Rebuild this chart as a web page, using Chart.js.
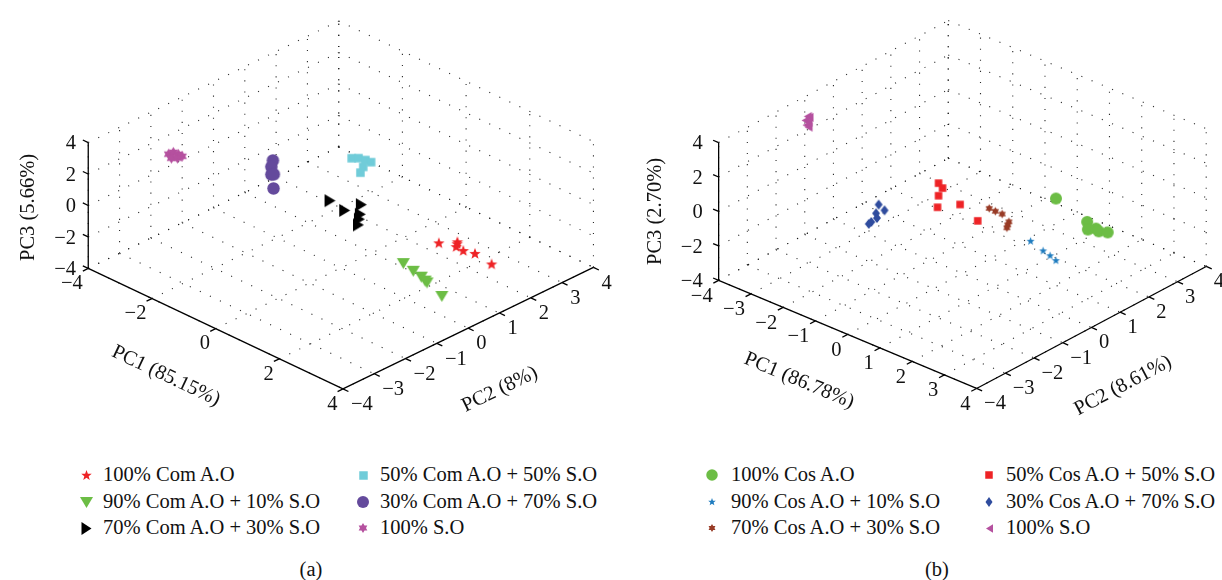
<!DOCTYPE html>
<html>
<head>
<meta charset="utf-8">
<script src="https://cdn.jsdelivr.net/npm/chart.js@4.4.1/dist/chart.umd.min.js"></script>
<style>
html,body{margin:0;padding:0;background:#fff;}
#wrap{position:relative;width:1222px;height:580px;overflow:hidden;font-family:"Liberation Serif","Times New Roman",serif;color:#111;}
canvas.plot{position:absolute;top:0;}
.lgt{position:absolute;font-size:20.5px;line-height:27px;white-space:nowrap;}
.lgm{position:absolute;}
.cap{position:absolute;font-size:20.5px;line-height:27px;white-space:nowrap;transform:translateX(-50%);}
</style>
</head>
<body>
<div id="wrap">
  <canvas id="cA" class="plot" width="650" height="440" style="left:0px"></canvas>
  <canvas id="cB" class="plot" width="611" height="440" style="left:611px"></canvas>
  <div class="cap" style="left:311px;top:556px">(a)</div>
  <div class="cap" style="left:937px;top:556px">(b)</div>
</div>
<script>
// ===================== DATA =====================
// Panel (a): commercial A.O / S.O blends, scores [PC1, PC2, PC3]
const labelsA = ['100% Com A.O', '90% Com A.O + 10% S.O', '70% Com A.O + 30% S.O',
                 '50% Com A.O + 50% S.O', '30% Com A.O + 70% S.O', '100% S.O'];
const aCom100 = [[2.30,0.79,-1.0],[2.56,1.12,-1.0],[2.62,1.05,-1.0],[2.70,0.94,-1.0],[2.94,0.92,-1.0],[3.22,1.01,-1.0],[3.83,0.92,-1.0]];
const aCom90  = [[2.14,-0.18,-1.5],[2.55,-0.28,-1.5],[2.87,-0.35,-1.5],[3.06,-0.42,-1.5],[3.15,-0.45,-1.5],[3.83,-0.67,-1.5]];
const aCom70  = [[0.8,-1.16,2.16],[0.8,-0.69,1.09],[0.8,-0.16,0.94],[0.8,-0.19,0.36],[0.8,-0.22,0.08],[0.8,-0.25,-0.26]];
const aCom50  = [[-0.3,0.65,2.06],[-0.3,0.87,1.85],[-0.3,1.09,1.52],[-0.3,1.27,1.21],[-0.3,1.02,1.15],[-0.3,0.93,0.87]];
const aCom30  = [[-1.2,-0.95,2.60],[-1.2,-1.00,2.24],[-1.2,-1.00,1.75],[-1.2,-0.92,1.69],[-1.2,-0.93,0.80]];
const aSO     = [[-3.6,-1.84,1.56],[-3.6,-1.69,1.53],[-3.6,-1.53,1.25],[-3.6,-1.75,1.22],[-3.6,-1.56,1.04],[-3.6,-1.41,1.01]];
const titlesA = ['PC1 (85.15%)', 'PC2 (8%)', 'PC3 (5.66%)'];
const ticksA_pc1 = [-4,-2,0,2,4];
const ticksA_pc2 = [-4,-3,-2,-1,0,1,2,3,4];
const ticksA_pc3 = [-4,-2,0,2,4];

// Panel (b): cosmetic A.O / S.O blends, scores [PC1, PC2, PC3]
const labelsB = ['100% Cos A.O', '90% Cos A.O + 10% S.O', '70% Cos A.O + 30% S.O',
                 '50% Cos A.O + 50% S.O', '30% Cos A.O + 70% S.O', '100% S.O'];
const bCos100 = [[2.27,0.71,1.5],[2.73,1.28,0],[2.99,1.01,0],[3.10,1.17,0],[3.24,1.11,0],[3.43,1.21,0]];
const bCos90  = [[1.82,0.33,-1],[2.35,0.17,-1],[2.63,0.10,-1],[2.89,0.01,-1]];
const bCos70  = [[0.59,0.27,0],[0.79,0.26,0],[1.00,0.26,0],[1.37,0.08,0],[1.45,-0.05,0],[1.53,-0.17,0]];
const bCos50  = [[-0.83,0.10,0.5],[-0.60,-0.02,0.5],[-0.42,-0.36,0.5],[-0.06,-0.80,0.5],[0.24,-0.35,0.5],[1.08,-0.68,0.5]];
const bCos30  = [[-1.45,-1.29,0],[-1.16,-1.41,0],[-1.21,-1.65,0],[-1.04,-1.81,0],[-1.01,-2.04,0],[-0.99,-2.15,0]];
const bSO     = [[-3.70,-1.23,3.3],[-3.64,-1.24,3.3],[-3.61,-1.41,3.3],[-3.50,-1.43,3.3],[-3.44,-1.57,3.3],[-3.34,-1.61,3.3]];
const titlesB = ['PC1 (86.78%)', 'PC2 (8.61%)', 'PC3 (2.70%)'];
const ticksB_pc1 = [-4,-3,-2,-1,0,1,2,3,4];
const ticksB_pc2 = [-4,-3,-2,-1,0,1,2,3,4];
const ticksB_pc3 = [-4,-2,0,2,4];

const axisLimits = [-4, 4];

// ===================== VIEW / STYLE =====================
// 3-D view: screen origin of (0,0,0) and screen vectors per unit of PC1, PC2, PC3
const viewA = { o:[341.2,204.5], e1:[32.54,15.56], e2:[32.0,-15.69], e3:[0,-16.25] };
const viewB = { o:[352.5,204.0], e1:[33.0,13.96], e2:[29.375,-15.75], e3:[0,-17.79] };

const FONT = '20.5px "Liberation Serif", "Times New Roman", serif';
const CAP_HALF = 6.8;

function proj(v, p) {
  return {
    x: v.o[0] + p[0]*v.e1[0] + p[1]*v.e2[0] + p[2]*v.e3[0],
    y: v.o[1] + p[0]*v.e1[1] + p[1]*v.e2[1] + p[2]*v.e3[1]
  };
}

function makeMarker(shape, w, h, color) {
  h = h || w;
  const s = Math.ceil(Math.max(w, h)) + 2;
  const c = document.createElement('canvas');
  c.width = s; c.height = s;
  const g = c.getContext('2d');
  g.fillStyle = color;
  g.translate(s/2, s/2);
  g.beginPath();
  const poly = pts => { g.moveTo(pts[0][0], pts[0][1]); for (let i=1;i<pts.length;i++) g.lineTo(pts[i][0], pts[i][1]); g.closePath(); };
  const starPts = (n, ro, ri) => { const a=[]; for (let k=0;k<2*n;k++){ const r = k%2===0?ro:ri; const t = -Math.PI/2 + k*Math.PI/n; a.push([r*Math.cos(t), r*Math.sin(t)]); } return a; };
  switch (shape) {
    case 'circle': g.arc(0,0,w/2,0,2*Math.PI); break;
    case 'square': g.rect(-w/2,-h/2,w,h); break;
    case 'diamond': poly([[0,-h/2],[w/2,0],[0,h/2],[-w/2,0]]); break;
    case 'star': poly(starPts(5, w/2, w/2*0.42)); break;
    case 'hexagram': poly(starPts(6, w/2, w/2*0.6)); break;
    case 'triDown': poly([[-w/2,-h/2],[w/2,-h/2],[0,h/2]]); break;
    case 'triRight': poly([[-w/2,-h/2],[w/2,0],[-w/2,h/2]]); break;
    case 'triLeft': poly([[w/2,-h/2],[-w/2,0],[w/2,h/2]]); break;
  }
  g.fill();
  return c;
}

// 3-D box / grid / axes plugin (drawn through the chart's own scales)
const box3d = {
  id: 'box3d',
  beforeDatasetsDraw(chart) {
    const o = chart.options.plugins.box3d;
    if (!o) return;
    const ctx = chart.ctx, xs = chart.scales.x, ys = chart.scales.y;
    const P = p => { const q = proj(o.view, p); return [xs.getPixelForValue(q.x), ys.getPixelForValue(q.y)]; };
    const lo = axisLimits[0], hi = axisLimits[1];
    const line = (a, b) => { const A = P(a), B = P(b); ctx.beginPath(); ctx.moveTo(A[0],A[1]); ctx.lineTo(B[0],B[1]); ctx.stroke(); };
    ctx.save();
    // dotted grid on the floor and the two back walls
    ctx.strokeStyle = 'rgba(20,20,20,0.9)';
    ctx.lineWidth = 1.1;
    ctx.setLineDash([1.1, 10]);
    o.ticks[0].forEach(t => { line([t,lo,lo],[t,hi,lo]); line([t,hi,lo],[t,hi,hi]); });
    o.ticks[1].forEach(s => { line([lo,s,lo],[hi,s,lo]); line([lo,s,lo],[lo,s,hi]); });
    o.ticks[2].forEach(z => { line([lo,lo,z],[lo,hi,z]); line([lo,hi,z],[hi,hi,z]); });
    ctx.setLineDash([]);
    // solid axes
    ctx.strokeStyle = '#000';
    ctx.lineWidth = 1.3;
    line([lo,lo,lo],[lo,lo,hi]);
    line([lo,lo,lo],[hi,lo,lo]);
    line([hi,lo,lo],[hi,hi,lo]);
    // tick marks (pointing out of the box)
    const O0 = P([0,0,0]), E1 = P([1,0,0]), E2 = P([0,1,0]);
    const unit = (a) => { const l = Math.hypot(a[0],a[1]); return [a[0]/l, a[1]/l]; };
    const u1 = unit([E1[0]-O0[0], E1[1]-O0[1]]);
    const u2 = unit([E2[0]-O0[0], E2[1]-O0[1]]);
    const TL = 6;
    const tick = (pt, d) => { ctx.beginPath(); ctx.moveTo(pt[0],pt[1]); ctx.lineTo(pt[0]+d[0]*TL, pt[1]+d[1]*TL); ctx.stroke(); };
    o.ticks[0].forEach(t => tick(P([t,lo,lo]), [-u2[0],-u2[1]]));
    o.ticks[1].forEach(s => tick(P([hi,s,lo]), [u1[0],u1[1]]));
    o.ticks[2].forEach(z => tick(P([lo,lo,z]), [-u1[0],-u1[1]]));
    // tick labels
    const fmt = v => v < 0 ? '\u2212' + Math.abs(v) : String(v);
    ctx.fillStyle = '#111';
    ctx.font = FONT;
    ctx.textBaseline = 'alphabetic';
    ctx.textAlign = 'right';
    o.ticks[0].forEach(t => { const p = P([t,lo,lo]); ctx.fillText(fmt(t), p[0]+o.lab1[0], p[1]+o.lab1[1]+CAP_HALF); });
    ctx.textAlign = 'left';
    o.ticks[1].forEach(s => { const p = P([hi,s,lo]); ctx.fillText(fmt(s), p[0]+o.lab2[0], p[1]+o.lab2[1]+CAP_HALF); });
    ctx.textAlign = 'right';
    o.ticks[2].forEach(z => { const p = P([lo,lo,z]); ctx.fillText(fmt(z), p[0]+o.lab3[0], p[1]+o.lab3[1]+CAP_HALF); });
    // axis titles
    ctx.textAlign = 'center';
    const ang1 = Math.atan2(u1[1], u1[0]), ang2 = Math.atan2(u2[1], u2[0]);
    const title = (txt, c, ang) => { ctx.save(); ctx.translate(c[0], c[1]); ctx.rotate(ang); ctx.fillText(txt, 0, CAP_HALF); ctx.restore(); };
    const m1 = P([0,lo,lo]), m2 = P([hi,0,lo]), m3 = P([lo,lo,0]);
    title(o.titles[0], [m1[0]+o.t1[0], m1[1]+o.t1[1]], ang1);
    title(o.titles[1], [m2[0]+o.t2[0], m2[1]+o.t2[1]], ang2);
    title(o.titles[2], [m3[0]+o.t3[0], m3[1]+o.t3[1]], -Math.PI/2);
    ctx.restore();
  }
};

function makeChart(canvasId, view, series, labels, styles, ticks, titles, lay) {
  const canvas = document.getElementById(canvasId);
  const W = canvas.width, H = canvas.height;
  const datasets = series.map((arr, i) => ({
    label: labels[i],
    data: arr.map(p => proj(view, p)),
    pointStyle: makeMarker(styles[i].shape, styles[i].w, styles[i].h, styles[i].color),
    pointRadius: 6,
    clip: false,
    showLine: false,
    legendMarker: makeMarker(styles[i].shape, styles[i].lw, styles[i].lh, styles[i].color)
  }));
  return new Chart(canvas.getContext('2d'), {
    type: 'scatter',
    data: { datasets },
    options: {
      responsive: false,
      maintainAspectRatio: false,
      animation: false,
      events: [],
      devicePixelRatio: 1,
      layout: { padding: 0 },
      scales: {
        x: { type: 'linear', display: false, min: 0, max: W },
        y: { type: 'linear', display: false, min: 0, max: H, reverse: true }
      },
      plugins: {
        legend: { display: false },
        tooltip: { enabled: false },
        box3d: Object.assign({ view, ticks, titles }, lay)
      }
    },
    plugins: [box3d]
  });
}

const stylesA = [
  { shape:'star',     w:12,  h:12,  lw:11,  lh:11,  color:'#ee2326' },
  { shape:'triDown',  w:13,  h:11,  lw:13,  lh:11,  color:'#6cbd45' },
  { shape:'triRight', w:11,  h:13,  lw:10,  lh:13,  color:'#000000' },
  { shape:'square',   w:8.5, h:8.5, lw:8.5, lh:8.5, color:'#70ccd9' },
  { shape:'circle',   w:12.5,h:12.5,lw:12,  lh:12,  color:'#644a9c' },
  { shape:'hexagram', w:11,  h:11,  lw:10,  lh:10,  color:'#b5519f' }
];
const stylesB = [
  { shape:'circle',   w:12,  h:12,  lw:11.5,lh:11.5,color:'#6cbd45' },
  { shape:'star',     w:8.5, h:8.5, lw:8,   lh:8,   color:'#1f7cbf' },
  { shape:'hexagram', w:8.5, h:8.5, lw:8,   lh:8,   color:'#983b26' },
  { shape:'square',   w:7.5, h:7.5, lw:7.5, lh:7.5, color:'#ee2326' },
  { shape:'diamond',  w:8,   h:10,  lw:7,   lh:10,  color:'#2f4c9e' },
  { shape:'triLeft',  w:8,   h:9,   lw:7,   lh:8.5, color:'#b5519f' }
];

const chartA = makeChart('cA', viewA, [aCom100, aCom90, aCom70, aCom50, aCom30, aSO], labelsA, stylesA,
  [ticksA_pc1, ticksA_pc2, ticksA_pc3], titlesA,
  { lab1:[-5.5,14], lab2:[8,14.5], lab3:[-12.3,0], t1:[-49,46], t2:[31,60], t3:[-61,2] });
const chartB = makeChart('cB', viewB, [bCos100, bCos90, bCos70, bCos50, bCos30, bSO], labelsB, stylesB,
  [ticksB_pc1, ticksB_pc2, ticksB_pc3], titlesB,
  { lab1:[-6,14.5], lab2:[7.5,14], lab3:[-16,0], t1:[-48,45], t2:[31,57], t3:[-64,0] });

// HTML legends built from the chart datasets (two columns of three)
function buildLegend(chart, markerX, textX, rowY) {
  const wrap = document.getElementById('wrap');
  chart.data.datasets.forEach((ds, i) => {
    const col = Math.floor(i / 3), row = i % 3;
    const m = ds.legendMarker;
    m.className = 'lgm';
    m.style.left = (markerX[col] - m.width/2) + 'px';
    m.style.top = (rowY[row] - m.height/2) + 'px';
    wrap.appendChild(m);
    const t = document.createElement('div');
    t.className = 'lgt';
    t.textContent = ds.label;
    t.style.left = textX[col] + 'px';
    t.style.top = (rowY[row] - 13.6) + 'px';
    wrap.appendChild(t);
  });
}
buildLegend(chartA, [86, 363], [103, 380], [475, 502, 528]);
buildLegend(chartB, [712, 989], [731, 1006], [475, 502, 528]);
</script>
</body>
</html>
